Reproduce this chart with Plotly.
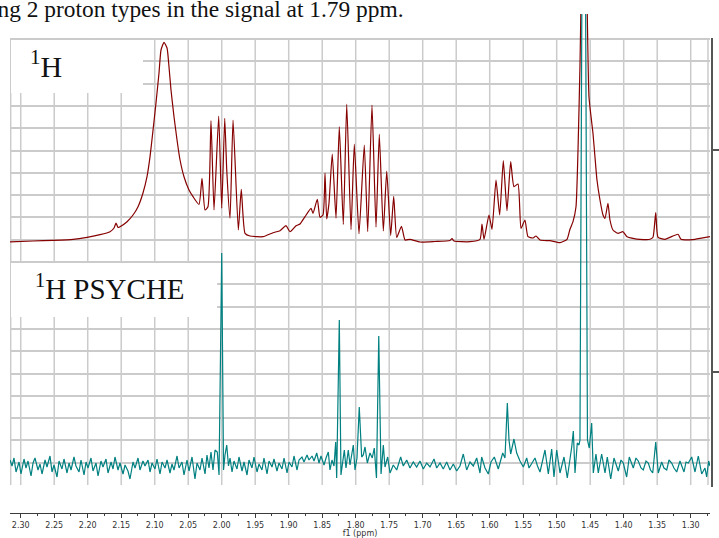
import plotly.graph_objects as go

# 1H spectrum vertices: (chemical shift / ppm, intensity / a.u. above its own baseline)
H1_TRACE = [
    (2.3160, 0.0), (2.2816, 0.8), (2.2518, 1.5), (2.2219, 2.5), (2.2010, 4.5),
    (2.1816, 7.1), (2.1667, 10.1), (2.1607, 13.8), (2.1578, 18.8), (2.1548, 14.3),
    (2.1518, 15.1), (2.1413, 20.1), (2.1324, 26.8), (2.1249, 35.1), (2.1175, 48.8),
    (2.1115, 65.1), (2.1070, 85.1), (2.1025, 111.8), (2.0981, 138.8), (2.0936, 168.8),
    (2.0906, 191.8), (2.0861, 199.5), (2.0816, 193.8), (2.0787, 175.1), (2.0757, 151.8),
    (2.0712, 125.1), (2.0667, 101.8), (2.0622, 81.8), (2.0563, 65.1), (2.0488, 51.8),
    (2.0428, 45.1), (2.0339, 37.3), (2.0294, 63.5), (2.0249, 31.8), (2.0205, 35.1),
    (2.0160, 121.1), (2.0115, 31.8), (2.0045, 125.8), (2.0000, 33.5), (1.9955, 123.5),
    (1.9925, 71.8), (1.9876, 23.5), (1.9831, 121.8), (1.9752, 11.8), (1.9708, 52.5),
    (1.9652, 8.5), (1.9578, 5.8), (1.9384, 5.1), (1.9234, 9.1), (1.9130, 11.1),
    (1.9040, 16.1), (1.8981, 10.1), (1.8891, 16.1), (1.8832, 17.8), (1.8757, 25.1),
    (1.8667, 33.5), (1.8637, 28.5), (1.8573, 42.5), (1.8533, 24.5), (1.8488, 26.8),
    (1.8458, 68.8), (1.8433, 22.8), (1.8399, 38.5), (1.8350, 87.8), (1.8294, 23.5),
    (1.8245, 115.1), (1.8185, 17.3), (1.8134, 137.6), (1.8070, 12.3), (1.8021, 97.6),
    (1.7951, 8.1), (1.7872, 96.8), (1.7821, 10.1), (1.7757, 136.8), (1.7697, 14.6),
    (1.7648, 107.6), (1.7588, 10.8), (1.7537, 70.6), (1.7478, 6.3), (1.7433, 45.5),
    (1.7388, 4.3), (1.7317, 15.5), (1.7264, 1.8), (1.7190, 2.5), (1.7040, -0.2),
    (1.6817, 0.3), (1.6593, 1.3), (1.6563, 3.3), (1.6533, 0.8), (1.6294, 0.1),
    (1.6145, 2.5), (1.6115, 17.8), (1.6085, 2.5), (1.6011, 26.8), (1.5966, 12.5),
    (1.5906, 61.8), (1.5851, 26.8), (1.5797, 81.1), (1.5742, 31.1), (1.5687, 80.1),
    (1.5638, 55.1), (1.5578, 57.8), (1.5533, 13.5), (1.5474, 21.8), (1.5429, 5.1),
    (1.5354, 3.8), (1.5309, 5.8), (1.5249, 1.8), (1.5100, 1.1), (1.4951, -0.9),
    (1.4846, 2.5), (1.4802, 12.5), (1.4757, 20.1), (1.4712, 35.1), (1.4682, 91.8),
    (1.4653, 175.1), (1.4588, 420.0), (1.4518, 144.8), (1.4459, 108.8), (1.4429, 85.1),
    (1.4399, 61.8), (1.4354, 41.8), (1.4309, 26.8), (1.4279, 23.5), (1.4235, 38.5),
    (1.4205, 21.8), (1.4160, 11.8), (1.4085, 8.5), (1.4011, 10.1), (1.3951, 5.1),
    (1.3861, 3.5), (1.3757, 2.5), (1.3608, 2.5), (1.3563, 4.5), (1.3522, 29.1),
    (1.3488, 4.5), (1.3384, 2.5), (1.3190, 7.5), (1.3145, 2.5), (1.2936, 2.5),
    (1.2712, 5.1),
]

# 1H PSYCHE (pure shift) spectrum vertices: (ppm, intensity / a.u.)
PSYCHE_TRACE = [
    (2.3160, 6), (2.3130, 0), (2.3100, 8), (2.3070, -6), (2.3025, 4), (2.2996, -8),
    (2.2951, 7), (2.2921, -2), (2.2891, 5), (2.2846, -10), (2.2816, 3), (2.2787, 8),
    (2.2742, -4), (2.2712, 2), (2.2682, -8), (2.2637, 6), (2.2608, -1), (2.2563, 10),
    (2.2533, -6), (2.2503, 1), (2.2458, -11), (2.2428, 5), (2.2384, -3), (2.2354, 7),
    (2.2309, -7), (2.2279, 3), (2.2249, -4), (2.2205, 9), (2.2175, 0), (2.2130, -6),
    (2.2100, 6), (2.2055, -9), (2.2025, 4), (2.1996, -2), (2.1951, 8), (2.1921, -5),
    (2.1876, 3), (2.1846, -10), (2.1802, 5), (2.1772, -1), (2.1727, 7), (2.1697, -7),
    (2.1652, 4), (2.1622, -3), (2.1593, 9), (2.1548, -4), (2.1518, 3), (2.1473, -8),
    (2.1443, 1), (2.1399, -5), (2.1369, -13), (2.1324, 4), (2.1294, -2), (2.1249, 8),
    (2.1220, -4), (2.1175, 5), (2.1145, 0), (2.1100, 6), (2.1070, -6), (2.1040, 3),
    (2.0996, -3), (2.0966, 7), (2.0921, -8), (2.0891, 4), (2.0846, -2), (2.0816, 6),
    (2.0772, -7), (2.0742, 2), (2.0712, -4), (2.0667, 10), (2.0637, -2), (2.0593, 4),
    (2.0563, -9), (2.0518, 6), (2.0488, -5), (2.0443, 9), (2.0399, -13), (2.0369, 3),
    (2.0324, -4), (2.0294, 8), (2.0249, -8), (2.0220, 11), (2.0190, -2), (2.0160, 14),
    (2.0130, -4), (2.0100, 16), (2.0066, 14), (2.0040, -9), (2.0000, 213), (1.9973, -4),
    (1.9951, 11), (1.9925, 21), (1.9899, 0), (1.9876, 8), (1.9846, -6), (1.9817, 5),
    (1.9772, -3), (1.9742, 9), (1.9697, -5), (1.9667, 4), (1.9622, -9), (1.9593, 6),
    (1.9548, -2), (1.9518, 9), (1.9473, -6), (1.9443, 2), (1.9399, -4), (1.9369, 8),
    (1.9324, -8), (1.9294, 5), (1.9249, -1), (1.9220, 7), (1.9175, -5), (1.9145, 3),
    (1.9100, -3), (1.9070, 8), (1.9025, -7), (1.8996, 4), (1.8951, -1), (1.8921, 10),
    (1.8876, -4), (1.8846, 6), (1.8802, 9), (1.8772, 4), (1.8727, 11), (1.8697, 6),
    (1.8652, 10), (1.8622, 5), (1.8582, 13), (1.8548, 3), (1.8518, 10), (1.8473, 1),
    (1.8443, 8), (1.8409, 14), (1.8384, -4), (1.8354, 6), (1.8324, 0), (1.8299, 24),
    (1.8284, -12), (1.8245, 146), (1.8220, -9), (1.8194, 3), (1.8170, 16), (1.8145, -2),
    (1.8111, 16), (1.8085, 1), (1.8063, 9), (1.8036, 21), (1.8011, -4), (1.7981, 8),
    (1.7947, 59), (1.7911, 9), (1.7887, 11), (1.7861, 19), (1.7827, 3), (1.7787, 13),
    (1.7753, 8), (1.7723, 18), (1.7690, -12), (1.7656, 130), (1.7622, -8), (1.7588, 21),
    (1.7563, -1), (1.7523, 9), (1.7488, -7), (1.7439, 1), (1.7388, -4), (1.7329, 9),
    (1.7290, 0), (1.7239, 6), (1.7190, -2), (1.7141, 4), (1.7090, -1), (1.7041, 5),
    (1.6991, -3), (1.6940, 3), (1.6891, -1), (1.6831, 7), (1.6791, -2), (1.6742, 3),
    (1.6693, -3), (1.6642, 4), (1.6593, -4), (1.6543, 2), (1.6493, -5), (1.6444, 0),
    (1.6394, 12), (1.6344, -4), (1.6294, 4), (1.6245, 0), (1.6194, 8), (1.6145, -7),
    (1.6120, 9), (1.6070, -2), (1.6021, -8), (1.5981, 4), (1.5931, 9), (1.5872, -3),
    (1.5806, 13), (1.5772, 8), (1.5737, 63), (1.5712, 26), (1.5687, 12), (1.5638, 27),
    (1.5597, 13), (1.5548, 5), (1.5498, -1), (1.5448, 8), (1.5413, -2), (1.5373, 3),
    (1.5324, 8), (1.5287, 0), (1.5249, -6), (1.5175, 16), (1.5125, -8), (1.5075, 17),
    (1.5041, -11), (1.5000, 16), (1.4951, -7), (1.4891, 9), (1.4842, -12), (1.4776, 19),
    (1.4752, 35), (1.4727, -7), (1.4693, 23), (1.4667, 21), (1.4653, 26), (1.4596, 900),
    (1.4541, 26), (1.4514, 18), (1.4478, 43), (1.4454, -7), (1.4414, 12), (1.4379, -7),
    (1.4329, 12), (1.4279, -7), (1.4245, 9), (1.4194, -13), (1.4145, 8), (1.4081, -5),
    (1.4041, 6), (1.4006, 3), (1.3956, -11), (1.3917, 9), (1.3857, -2), (1.3817, 8),
    (1.3783, 5), (1.3742, -2), (1.3708, -4), (1.3667, 5), (1.3633, 3), (1.3600, -4),
    (1.3567, -7), (1.3522, 24), (1.3484, -7), (1.3433, 4), (1.3399, -2), (1.3358, -4),
    (1.3324, 6), (1.3284, 3), (1.3250, -2), (1.3209, -6), (1.3160, 5), (1.3100, -6),
    (1.3070, 4), (1.3036, 3), (1.2985, 9), (1.2936, -6), (1.2887, 10), (1.2836, -8),
    (1.2787, -2), (1.2762, -11), (1.2732, 5), (1.2712, 0),
]

# vertical stacking offsets of the two spectra (a.u.)
H1_OFFSET = 243.2
PSYCHE_OFFSET = 19.0

X_TICKS = [2.30, 2.25, 2.20, 2.15, 2.10, 2.05, 2.00, 1.95, 1.90, 1.85, 1.80,
           1.75, 1.70, 1.65, 1.60, 1.55, 1.50, 1.45, 1.40, 1.35, 1.30]
X_TITLE = "f1 (ppm)"
CAPTION = "ing 2 proton types in the signal at 1.79 ppm."
LABEL_1H = "<sup>1</sup>H"
LABEL_PSYCHE = "<sup>1</sup>H PSYCHE"

W, H = 719, 538
X_RANGE = [2.3160, 1.2712]
GRID_STEP = 22.3
GRID_TOP = 20 * GRID_STEP
GRID_COLOR = "#cbcbcb"


def px(x):
    return x / W


def py(y):
    return (H - y) / H


h1_ppm = [p for p, _ in H1_TRACE]
h1_int = [v + H1_OFFSET for _, v in H1_TRACE]
ps_ppm = [p for p, _ in PSYCHE_TRACE]
ps_int = [v + PSYCHE_OFFSET for _, v in PSYCHE_TRACE]

fig = go.Figure()
fig.add_trace(go.Scatter(x=h1_ppm, y=h1_int, mode="lines",
                         line=dict(color="#860000", width=1.2, shape="spline", smoothing=0.5),
                         showlegend=False, hoverinfo="skip"))
fig.add_trace(go.Scatter(x=ps_ppm, y=ps_int, mode="lines",
                         line=dict(color="#008080", width=1.2),
                         showlegend=False, hoverinfo="skip"))
# carrier for the right-hand intensity axis
fig.add_trace(go.Scatter(x=[None], y=[None], xaxis="x", yaxis="y2",
                         showlegend=False, hoverinfo="skip"))

shapes = []
for t in X_TICKS:
    shapes.append(dict(type="line", xref="x", yref="y", x0=t, x1=t, y0=0, y1=GRID_TOP,
                       line=dict(color=GRID_COLOR, width=1.5), layer="between"))
for edge in (2.3150, 1.2742):
    shapes.append(dict(type="line", xref="x", yref="y", x0=edge, x1=edge, y0=0, y1=GRID_TOP,
                       line=dict(color=GRID_COLOR, width=1.5), layer="between"))
# white panels behind the spectrum labels
shapes.append(dict(type="rect", xref="x", yref="y", x0=2.3145, x1=2.1175, y0=392, y1=445,
                   fillcolor="white", line=dict(width=0), layer="between"))
shapes.append(dict(type="rect", xref="x", yref="y", x0=2.3145, x1=2.0070, y0=168, y1=222,
                   fillcolor="white", line=dict(width=0), layer="between"))

serif = "Liberation Serif, Times New Roman, serif"
annotations = [
    dict(text=CAPTION, xref="paper", yref="paper", x=px(406), y=py(9), xanchor="right",
         yanchor="middle", showarrow=False, font=dict(family=serif, size=23.4, color="#111")),
    dict(text=LABEL_1H, xref="paper", yref="paper", x=px(28), y=py(64), xanchor="left",
         yanchor="middle", showarrow=False, font=dict(family=serif, size=30, color="#111")),
    dict(text=LABEL_PSYCHE, xref="paper", yref="paper", x=px(33), y=py(287), xanchor="left",
         yanchor="middle", showarrow=False, font=dict(family=serif, size=29, color="#111")),
]

axis_dark = "#3c3c3c"
fig.update_layout(
    width=W, height=H, margin=dict(l=0, r=0, t=0, b=0),
    paper_bgcolor="white", plot_bgcolor="rgba(0,0,0,0)", showlegend=False,
    shapes=shapes, annotations=annotations,
    xaxis=dict(
        domain=[px(10), px(710)], range=X_RANGE, anchor="free", position=py(513),
        showgrid=False, zeroline=False, showline=True, linecolor=axis_dark, linewidth=1,
        ticks="outside", ticklen=4, tickwidth=1, tickcolor=axis_dark,
        tickmode="array", tickvals=X_TICKS, ticktext=[f"{t:.2f}" for t in X_TICKS],
        tickfont=dict(family="DejaVu Sans, Verdana, sans-serif", size=8, color="#333"),
        minor=dict(ticks="outside", ticklen=2, tickcolor=axis_dark,
                   tickvals=[round(t - 0.025, 3) for t in X_TICKS]),
        title=dict(text=X_TITLE, standoff=2,
                   font=dict(family="DejaVu Sans, Verdana, sans-serif", size=8, color="#333")),
    ),
    yaxis=dict(
        domain=[py(485), py(14)], range=[0, 471], showticklabels=False, ticks="",
        tickmode="array", tickvals=[round(i * GRID_STEP, 1) for i in range(21)],
        showgrid=True, gridcolor=GRID_COLOR, gridwidth=1.5, zeroline=False, showline=False,
    ),
    yaxis2=dict(
        domain=[py(487), py(38)], range=[-2, 447], anchor="free", position=px(712),
        side="right", showgrid=False, zeroline=False, showline=True, linecolor="#555",
        linewidth=2, ticks="outside", ticklen=6, tickwidth=1.5, tickcolor="#555",
        tickmode="array", tickvals=[113, 335], showticklabels=False,
    ),
)

fig.write_html("out.html")
